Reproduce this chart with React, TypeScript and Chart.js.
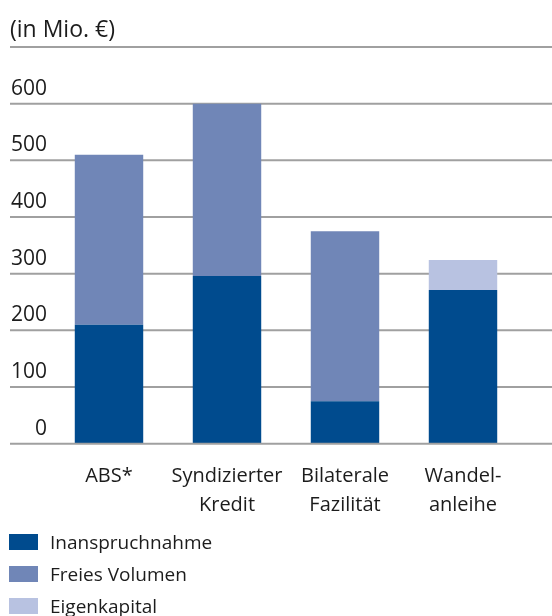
import React, { useEffect, useRef } from "react";
import { Chart, registerables } from "chart.js";

Chart.register(...registerables);

const categories: string[][] = [["ABS*"], ["Syndizierter", "Kredit"], ["Bilaterale", "Fazilität"], ["Wandel-", "anleihe"]];
const inanspruchnahme = [210, 296, 75, 271];
const freiesVolumen = [300, 304, 300, 0];
const eigenkapital = [0, 0, 0, 53];
const yTickValues = [0, 100, 200, 300, 400, 500, 600, 700];
const yTickLabels = ["0", "100", "200", "300", "400", "500", "600", "(in Mio. €)"];
const seriesNames = ["Inanspruchnahme", "Freies Volumen", "Eigenkapital"];
const seriesColors = ["#004b8e", "#7086b7", "#b8c2e1"];

const FONT = "'Open Sans', 'Noto Sans', sans-serif";
const TEXT = "#1c1c1c";
const GRID = "#a0a0a0";

const gridPlugin = {
  id: "fullGrid",
  beforeDatasetsDraw(chart: any) {
    const { ctx, scales } = chart;
    const y = scales.y;
    ctx.save();
    ctx.strokeStyle = GRID;
    ctx.lineWidth = 2;
    yTickValues.forEach((v, i) => {
      const py = y.getPixelForValue(v);
      if (v !== 0) {
        ctx.beginPath();
        ctx.moveTo(10, py);
        ctx.lineTo(chart.width, py);
        ctx.stroke();
      }
      ctx.fillStyle = TEXT;
      ctx.textBaseline = "alphabetic";
      if (i === yTickValues.length - 1) {
        ctx.font = `23px ${FONT}`;
        ctx.textAlign = "left";
        ctx.fillText(yTickLabels[i], 10, py - 10);
      } else {
        ctx.font = `21px ${FONT}`;
        ctx.textAlign = "right";
        ctx.fillText(yTickLabels[i], 47, py - 9);
      }
    });
    ctx.restore();
  },
  afterDatasetsDraw(chart: any) {
    const { ctx, scales } = chart;
    const py = scales.y.getPixelForValue(0);
    ctx.save();
    ctx.strokeStyle = GRID;
    ctx.lineWidth = 2;
    ctx.beginPath();
    ctx.moveTo(10, py);
    ctx.lineTo(chart.width, py);
    ctx.stroke();
    ctx.restore();
  },
};

export default function App() {
  const ref = useRef<HTMLCanvasElement>(null);
  useEffect(() => {
    if (!ref.current) return;
    const chart = new Chart(ref.current, {
      type: "bar",
      data: {
        labels: categories,
        datasets: [
          { label: seriesNames[0], data: inanspruchnahme, backgroundColor: seriesColors[0] },
          { label: seriesNames[1], data: freiesVolumen, backgroundColor: seriesColors[1] },
          { label: seriesNames[2], data: eigenkapital, backgroundColor: seriesColors[2] },
        ],
      },
      options: {
        animation: false,
        responsive: false,
        maintainAspectRatio: false,
        layout: { padding: { top: 47, left: 50, right: 30, bottom: 100.3 } },
        plugins: { legend: { display: false }, tooltip: { enabled: false }, title: { display: false } },
        datasets: { bar: { categoryPercentage: 1, barPercentage: 0.58 } },
        scales: {
          x: {
            stacked: true,
            grid: { display: false },
            border: { display: false },
            ticks: { color: TEXT, font: { family: FONT, size: 20, lineHeight: "29px" as any }, padding: 10, maxRotation: 0, autoSkip: false },
            afterFit: (s: any) => { s.height = 72; },
          },
          y: { stacked: true, display: false, min: 0, max: 700 },
        },
      },
      plugins: [gridPlugin],
    });
    return () => chart.destroy();
  }, []);

  return (
    <div style={{ position: "fixed", left: 0, top: 0, width: 552, height: 616, background: "#fff", overflow: "hidden" }}>
      <canvas ref={ref} width={552} height={616} style={{ display: "block", width: 552, height: 616 }} />
      {seriesNames.map((name, i) => (
        <div key={name} style={{ position: "absolute", left: 9, top: 528 + i * 32, height: 28, display: "flex", alignItems: "center", fontFamily: FONT, fontSize: 19, color: TEXT, whiteSpace: "nowrap" }}>
          <span style={{ display: "inline-block", width: 29, height: 16, background: seriesColors[i], marginRight: 12 }} />
          <span>{name}</span>
        </div>
      ))}
    </div>
  );
}
